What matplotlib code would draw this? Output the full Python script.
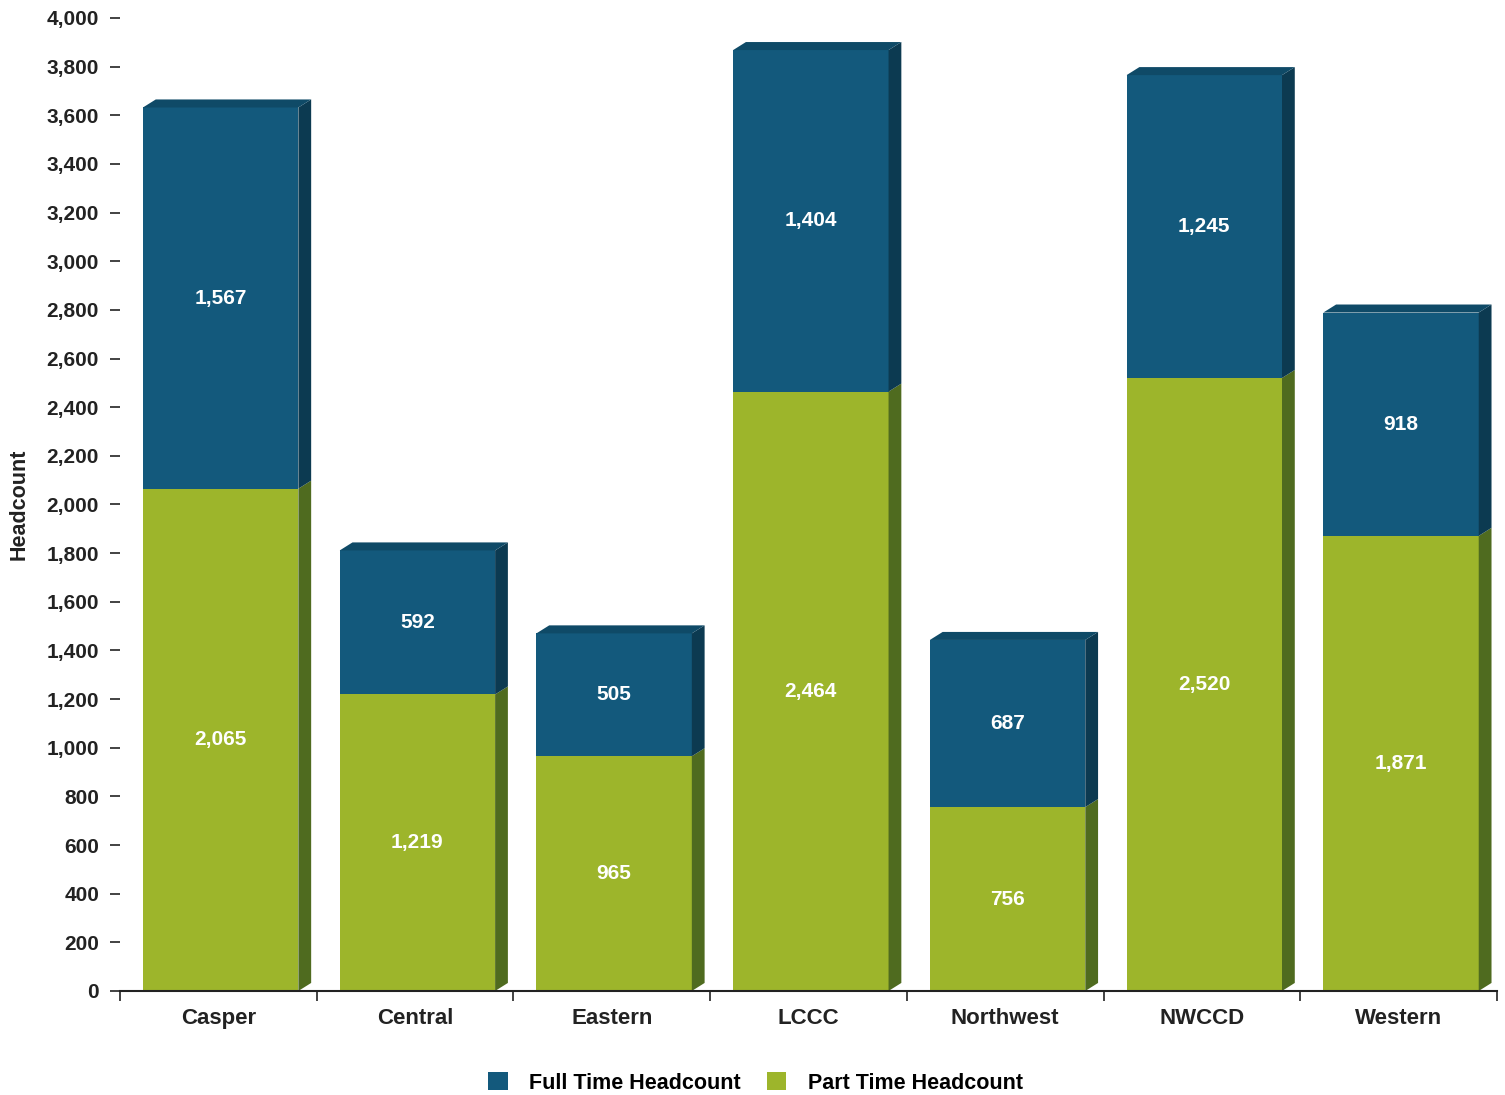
import matplotlib
matplotlib.use('Agg')
import matplotlib.pyplot as plt
from matplotlib.patches import Polygon, Rectangle
from matplotlib.ticker import FuncFormatter, FixedLocator

colleges = ['Casper', 'Central', 'Eastern', 'LCCC', 'Northwest', 'NWCCD', 'Western']
part_time = [2065, 1219, 965, 2464, 756, 2520, 1871]
full_time = [1567, 592, 505, 1404, 687, 1245, 918]

blue = '#13597c'
blue_side = '#0c3a51'
blue_top = '#0f4a67'
green = '#9db52b'
green_side = '#4f6b1f'

plt.rcParams['font.family'] = ['Liberation Sans', 'DejaVu Sans']
plt.rcParams['font.weight'] = 'bold'

fig = plt.figure(figsize=(15.05, 10.95), dpi=100)
ax = fig.add_axes([0.0797, 0.095, 0.915, 0.8886])

width = 0.79
offset = 0.012  # bars sit a touch right of the category centre
dx = 0.065   # depth offset in x (category units)
dy = 33      # depth offset in y (headcount units)

for i, (p, f) in enumerate(zip(part_time, full_time)):
    left = i + offset - width / 2
    right = i + offset + width / 2
    total = p + f
    # front faces
    ax.add_patch(Rectangle((left, 0), width, p, facecolor=green, edgecolor='none', zorder=2))
    ax.add_patch(Rectangle((left, p), width, f, facecolor=blue, edgecolor='none', zorder=2))
    # side faces
    ax.add_patch(Polygon([(right, 0), (right + dx, dy), (right + dx, p + dy), (right, p)],
                         closed=True, facecolor=green_side, edgecolor='none', zorder=2))
    ax.add_patch(Polygon([(right, p), (right + dx, p + dy), (right + dx, total + dy), (right, total)],
                         closed=True, facecolor=blue_side, edgecolor='none', zorder=2))
    # top face
    ax.add_patch(Polygon([(left, total), (right, total), (right + dx, total + dy), (left + dx, total + dy)],
                         closed=True, facecolor=blue_top, edgecolor='none', zorder=2))
    # value labels
    ax.text(i + offset, p / 2, f'{p:,}', ha='center', va='center', color='white',
            fontsize=15, fontweight='bold', zorder=3)
    ax.text(i + offset, p + f / 2, f'{f:,}', ha='center', va='center', color='white',
            fontsize=15, fontweight='bold', zorder=3)

ax.set_xlim(-0.5, 6.5)
ax.set_ylim(0, 4000)

ax.set_yticks(range(0, 4001, 200))
ax.yaxis.set_major_formatter(FuncFormatter(lambda v, pos: f'{int(v):,}'))
ax.tick_params(axis='y', length=7, width=1.2, pad=8, labelsize=15, colors='#222222')

ax.set_xticks(range(len(colleges)))
ax.set_xticklabels(colleges, fontsize=16, fontweight='bold', color='#222222')
ax.xaxis.set_minor_locator(FixedLocator([i - 0.5 for i in range(len(colleges) + 1)]))
ax.tick_params(axis='x', which='major', length=0, pad=12)
ax.tick_params(axis='x', which='minor', length=7, width=1.2, direction='out', color='#222222')

for side in ['top', 'right', 'left']:
    ax.spines[side].set_visible(False)
ax.spines['bottom'].set_linewidth(1.5)
ax.spines['bottom'].set_color('#222222')
ax.spines['bottom'].set_zorder(4)

ax.set_ylabel('Headcount', fontsize=15.5, fontweight='bold', labelpad=12, color='#222222')

handles = [Rectangle((0, 0), 1, 1, facecolor=blue), Rectangle((0, 0), 1, 1, facecolor=green)]
fig.legend(handles, ['Full Time Headcount', 'Part Time Headcount'], loc='center',
           bbox_to_anchor=(0.502, 0.011), ncol=2, frameon=False, fontsize=15.5,
           handlelength=0.9, handleheight=0.9, columnspacing=1.2, handletextpad=1.0)

fig.savefig('out.png', dpi=100)
